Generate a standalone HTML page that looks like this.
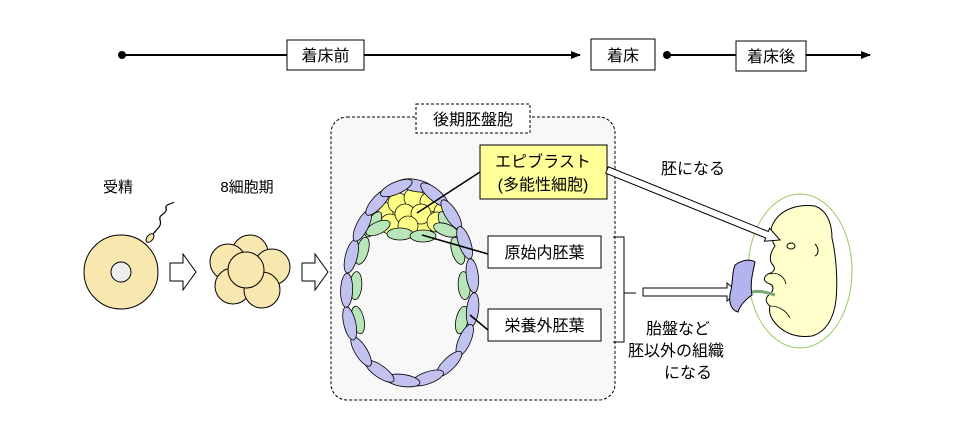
<!DOCTYPE html>
<html><head><meta charset="utf-8"><style>
html,body{margin:0;padding:0;background:#fff;}
svg{display:block;}
text{font-family:"Liberation Sans","Noto Sans CJK JP",sans-serif;fill:#000;}
</style></head><body>
<svg id="s" width="960" height="427" viewBox="0 0 960 427" xmlns="http://www.w3.org/2000/svg">
<defs>
<marker id="ah" markerWidth="10" markerHeight="8" refX="9" refY="4" orient="auto" markerUnits="userSpaceOnUse"><path d="M0,0 L10,4 L0,8 z" fill="#000"/></marker>
</defs>
<circle cx="122" cy="55" r="4" fill="#000"/>
<line x1="122" y1="55" x2="580" y2="55" stroke="#000" stroke-width="2" marker-end="url(#ah)"/>
<rect x="287" y="40" width="77" height="30" fill="#fff" stroke="#000"/>
<text x="325.5" y="61" font-size="16" text-anchor="middle">着床前</text>
<rect x="591" y="39" width="64" height="31" fill="#fff" stroke="#000"/>
<text x="623" y="61" font-size="16" text-anchor="middle">着床</text>
<circle cx="667" cy="55" r="4" fill="#000"/>
<line x1="667" y1="55" x2="870" y2="55" stroke="#000" stroke-width="2" marker-end="url(#ah)"/>
<rect x="736" y="41" width="70" height="30" fill="#fff" stroke="#000"/>
<text x="771" y="62" font-size="16" text-anchor="middle">着床後</text>

<text x="118" y="192" font-size="15" text-anchor="middle">受精</text>
<path d="M153,234 C158,228 162,226 160,220 C158,214 168,214 166,208 C165,204 172,204 174,202" fill="none" stroke="#000" stroke-width="1.2"/>
<ellipse cx="150" cy="238" rx="5" ry="3" transform="rotate(-50 150 238)" fill="#f9e7b0" stroke="#000"/>
<circle cx="121" cy="272" r="37" fill="#f9e7b0" stroke="#000"/>
<circle cx="121" cy="272" r="10" fill="#eee" stroke="#000"/>
<path d="M170,263 h13 v-9 l13,18 l-13,18 v-9 h-13 z" fill="#fff" stroke="#000"/>
<text x="247" y="192" font-size="15" text-anchor="middle">8細胞期</text>
<g fill="#f9e7b0" stroke="#000">
<circle cx="250" cy="253" r="18"/>
<circle cx="228" cy="262" r="18"/>
<circle cx="272" cy="267" r="18"/>
<circle cx="233" cy="286" r="18"/>
<circle cx="262" cy="290" r="18"/>
<circle cx="246" cy="270" r="18"/>
</g>
<path d="M302,263 h13 v-9 l13,18 l-13,18 v-9 h-13 z" fill="#fff" stroke="#000"/>

<rect x="331" y="117" width="284" height="283" rx="16" fill="#f8f8f8" stroke="#000" stroke-dasharray="3,2"/>
<rect x="416" y="104" width="114" height="29" fill="#fff" stroke="#000" stroke-dasharray="3,2"/>
<text x="473" y="125" font-size="16" text-anchor="middle">後期胚盤胞</text>
<g id="blast"></g>

<rect x="480" y="145" width="127" height="54" fill="#ffff99" stroke="#000"/>
<text x="543" y="167" font-size="16" text-anchor="middle">エピブラスト</text>
<text x="543" y="190" font-size="16" text-anchor="middle">(多能性細胞)</text>
<rect x="488" y="236" width="113" height="32" fill="#fff" stroke="#000"/>
<text x="544.5" y="258" font-size="16" text-anchor="middle">原始内胚葉</text>
<rect x="488" y="309" width="113" height="32" fill="#fff" stroke="#000"/>
<text x="544.5" y="331" font-size="16" text-anchor="middle">栄養外胚葉</text>
<line x1="417" y1="213" x2="480" y2="172" stroke="#000" stroke-width="1.5"/>
<line x1="422" y1="235" x2="488" y2="254" stroke="#000" stroke-width="1.5"/>
<line x1="470" y1="315" x2="488" y2="330" stroke="#000" stroke-width="1.5"/>
<path d="M613,237 H624 V342 H613 M624,293 H636" fill="none" stroke="#000"/>

<text x="693" y="174" font-size="16" text-anchor="middle">胚になる</text>
<path d="M643,288 H727 V283 L738,292 L727,301 V296 H643 z" fill="#fff" stroke="#000"/>
<text x="678" y="334" font-size="16" text-anchor="middle">胎盤など</text>
<text x="676" y="356" font-size="16" text-anchor="middle">胚以外の組織</text>
<text x="688" y="378" font-size="16" text-anchor="middle">になる</text>

<ellipse cx="800" cy="271" rx="52" ry="77" fill="#fff" stroke="#9c6" stroke-width="1"/>
<path d="M735,265 C745,258 752,260 755,262 C752,275 750,285 752,295 C745,300 740,305 738,312 C730,310 728,300 731,290 C733,280 732,272 735,265 z" fill="#b3b3ee" stroke="#000"/>
<path d="M774,222 C782,208 800,204 815,206 C826,210 832,222 832,238 C836,255 838,280 836,300 C834,318 826,332 812,336 C798,338 786,334 778,326 C772,320 768,314 770,306 C766,303 764,298 770,294 C774,290 774,286 770,284 C764,282 762,278 768,274 C775,272 776,268 772,264 C768,258 772,250 775,246 C770,238 769,230 774,222 z" fill="#ffffcc" stroke="#000"/>
<path d="M770,274 C778,272 784,276 786,284" fill="none" stroke="#000" stroke-width="0.8"/>
<path d="M770,306 C778,306 786,310 790,318" fill="none" stroke="#000" stroke-width="0.8"/>
<ellipse cx="791" cy="246" rx="4" ry="3" fill="none" stroke="#000"/>
<path d="M815,244 C819,248 819,254 815,256" fill="none" stroke="#000"/>
<path d="M752,292 C760,290 768,293 775,295" fill="none" stroke="#7a7" stroke-width="3"/>
<path d="M605.7,173.2 L765.7,238 L764.4,241.2 L780,240 L769.6,228.3 L768.3,231.5 L608.3,166.8 z" fill="#fff" stroke="#000"/>
</svg>
<script>
(function(){
var g=document.getElementById('blast'),h='';
var cx=410,cy=283,ry=98;
function pt(a,off){var rx=63*(1-0.12*Math.cos(a))-off;var r=ry-off;return [cx+rx*Math.sin(a),cy-r*Math.cos(a)];}
function el(a,off,w,hh,fill){var p=pt(a,off),q=pt(a+0.01,off);var ang=Math.atan2(q[1]-p[1],q[0]-p[0])*180/Math.PI;
return '<ellipse cx="'+p[0].toFixed(1)+'" cy="'+p[1].toFixed(1)+'" rx="'+w+'" ry="'+hh+'" transform="rotate('+ang.toFixed(1)+' '+p[0].toFixed(1)+' '+p[1].toFixed(1)+')" fill="'+fill+'" stroke="#000" stroke-width="0.8"/>';}
h+='<path d="M366,224 C375,196 440,186 456,222 C430,236 392,236 366,224 z" fill="#ffff88" stroke="#000" stroke-width="0.8"/>';
var yc=[[383,212],[398,203],[414,198],[430,202],[444,212],[390,224],[405,214],[421,214],[437,222],[408,226]];
yc.forEach(function(c){h+='<circle cx="'+c[0]+'" cy="'+c[1]+'" r="10" fill="#ffff88" stroke="#000" stroke-width="0.7"/>';});
[-2.0,-1.6,-1.2,-0.85,0.85,1.2,1.6,2.0].forEach(function(a){h+=el(a,9,14,6,'#b9e6b9');});
[[378,228,-25],[400,234,0],[423,236,0],[446,230,20]].forEach(function(c){h+='<ellipse cx="'+c[0]+'" cy="'+c[1]+'" rx="13" ry="6" transform="rotate('+c[2]+' '+c[0]+' '+c[1]+')" fill="#b9e6b9" stroke="#000" stroke-width="0.8"/>';});
for(var i=0;i<18;i++){var a=i/18*2*Math.PI+0.1;h+=el(a,0,17,6,'#c2c2f0');}
g.innerHTML=h;
})();
</script>
</body></html>
